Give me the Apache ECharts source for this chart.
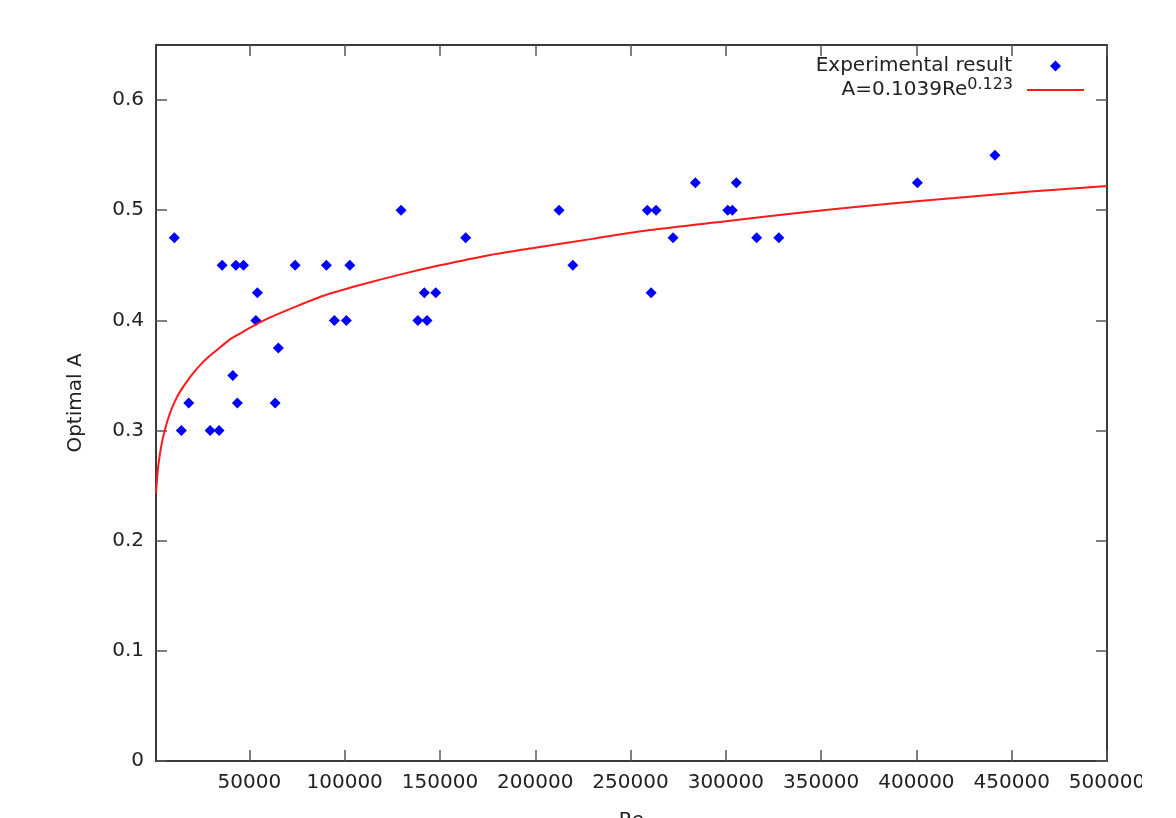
<!DOCTYPE html>
<html>
<head>
<meta charset="utf-8">
<script src="https://cdn.jsdelivr.net/npm/echarts@6/dist/echarts.min.js"></script>
<style>
  html, body { margin: 0; padding: 0; background: #fff; }
  #chart { width: 1142px; height: 818px; }
</style>
</head>
<body>
<div id="chart"></div>
<script>
// measured points (Re, optimal A)
var reValues = [10600, 14300, 18200, 29400, 34100, 35700, 41300, 42900, 43700, 46900,
  53400, 54200, 63500, 65200, 74000, 90400, 94600, 100900, 102700, 129600,
  138400, 141800, 143200, 147800, 163500, 212500, 219700, 258800, 260800, 263400,
  272300, 284000, 301000, 303400, 305500, 316200, 327800, 400500, 441200];
var optimalA = [0.475, 0.3, 0.325, 0.3, 0.3, 0.45, 0.35, 0.45, 0.325, 0.45,
  0.4, 0.425, 0.325, 0.375, 0.45, 0.45, 0.4, 0.4, 0.45, 0.5,
  0.4, 0.425, 0.4, 0.425, 0.475, 0.5, 0.45, 0.5, 0.425, 0.5,
  0.475, 0.525, 0.5, 0.5, 0.525, 0.475, 0.475, 0.525, 0.55];

// fitted curve A=0.1039Re^0.123
var fitRe = [1000, 1500, 2000, 3000, 4000, 5000, 6500, 8000, 10000, 12500,
  15000, 20000, 25000, 30000, 35000, 40000, 45000, 50000, 60000, 75000, 90000, 110000,
  130000, 150000, 175000, 200000, 230000, 260000, 300000, 340000, 380000, 420000,
  460000, 500000];
var fitA = [0.243, 0.255, 0.265, 0.278, 0.288, 0.296, 0.306, 0.314, 0.323, 0.332,
  0.339, 0.351, 0.361, 0.369, 0.376, 0.383, 0.388, 0.393, 0.402, 0.413, 0.423, 0.433,
  0.442, 0.450, 0.459, 0.466, 0.474, 0.482, 0.490, 0.498, 0.505, 0.511,
  0.517, 0.522];

var xTicks = [50000, 100000, 150000, 200000, 250000, 300000, 350000, 400000, 450000, 500000];
var yTicks = [0, 0.1, 0.2, 0.3, 0.4, 0.5, 0.6];

var font = 'DejaVu Sans';
var lineCol = '#3a3a3a';

var scatterData = reValues.map(function (r, i) { return [r, optimalA[i]]; });
var fitData = fitRe.map(function (r, i) { return [r, fitA[i]]; });

function plain(v) { return String(v); }

function axisX(pos, labels) {
  return {
    type: 'value', position: pos, min: 1000, max: 500000,
    name: labels ? 'Re' : '', nameLocation: 'middle', nameGap: 50,
    nameTextStyle: { fontFamily: font, fontSize: 20, color: '#222' },
    axisLine: { show: true, onZero: false, lineStyle: { color: lineCol, width: 2 } },
    axisTick: { show: true, inside: true, length: 11, customValues: xTicks,
      lineStyle: { color: '#555', width: 1.5 } },
    axisLabel: { show: labels, customValues: xTicks, margin: 12, formatter: plain,
      fontFamily: font, fontSize: 20, color: '#222' },
    splitLine: { show: false }
  };
}
function axisY(pos, labels) {
  return {
    type: 'value', position: pos, min: 0, max: 0.65,
    name: labels ? 'Optimal A' : '', nameLocation: 'middle', nameGap: 70, nameRotate: 90,
    nameTextStyle: { fontFamily: font, fontSize: 20, color: '#222' },
    axisLine: { show: true, onZero: false, lineStyle: { color: lineCol, width: 2 } },
    axisTick: { show: true, inside: true, length: 11, customValues: yTicks,
      lineStyle: { color: '#555', width: 1.5 } },
    axisLabel: { show: labels, customValues: yTicks, margin: 12, formatter: plain,
      fontFamily: font, fontSize: 20, color: '#222' },
    splitLine: { show: false }
  };
}

var option = {
  backgroundColor: '#fff',
  animation: false,
  grid: { left: 156, right: 35, top: 45, bottom: 57, containLabel: false, outerBoundsMode: 'none' },
  legend: [
    {
      data: ['Experimental result'],
      right: 81, top: 56, padding: 0, align: 'right',
      itemWidth: 11, itemHeight: 11,
      textStyle: { fontFamily: font, fontSize: 20, color: '#222', padding: [0, 33, 0, 0] }
    },
    {
      data: [{ name: 'fit', icon: 'rect' }],
      right: 58, top: 77, padding: 0, align: 'right',
      itemWidth: 57, itemHeight: 2,
      formatter: function () { return '{b|A=0.1039Re}{s|0.123}'; },
      textStyle: {
        fontFamily: font, fontSize: 20, color: '#222', padding: [0, 9, 0, 0],
        rich: {
          b: { fontFamily: font, fontSize: 20, color: '#222' },
          s: { fontFamily: font, fontSize: 16, color: '#222', verticalAlign: 'top', padding: [0, 0, 10, 0] }
        }
      }
    }
  ],
  xAxis: [axisX('bottom', true), axisX('top', false)],
  yAxis: [axisY('left', true), axisY('right', false)],
  series: [
    {
      name: 'Experimental result',
      type: 'scatter',
      symbol: 'diamond',
      symbolSize: 11,
      itemStyle: { color: '#0000ff', opacity: 1 },
      data: scatterData
    },
    {
      name: 'fit',
      type: 'line',
      smooth: 0.25,
      showSymbol: false,
      symbol: 'none',
      lineStyle: { color: '#ff1a1a', width: 2 },
      itemStyle: { color: '#ff1a1a' },
      data: fitData
    }
  ]
};

var chart = echarts.init(document.getElementById('chart'));
chart.setOption(option);
</script>
</body>
</html>
